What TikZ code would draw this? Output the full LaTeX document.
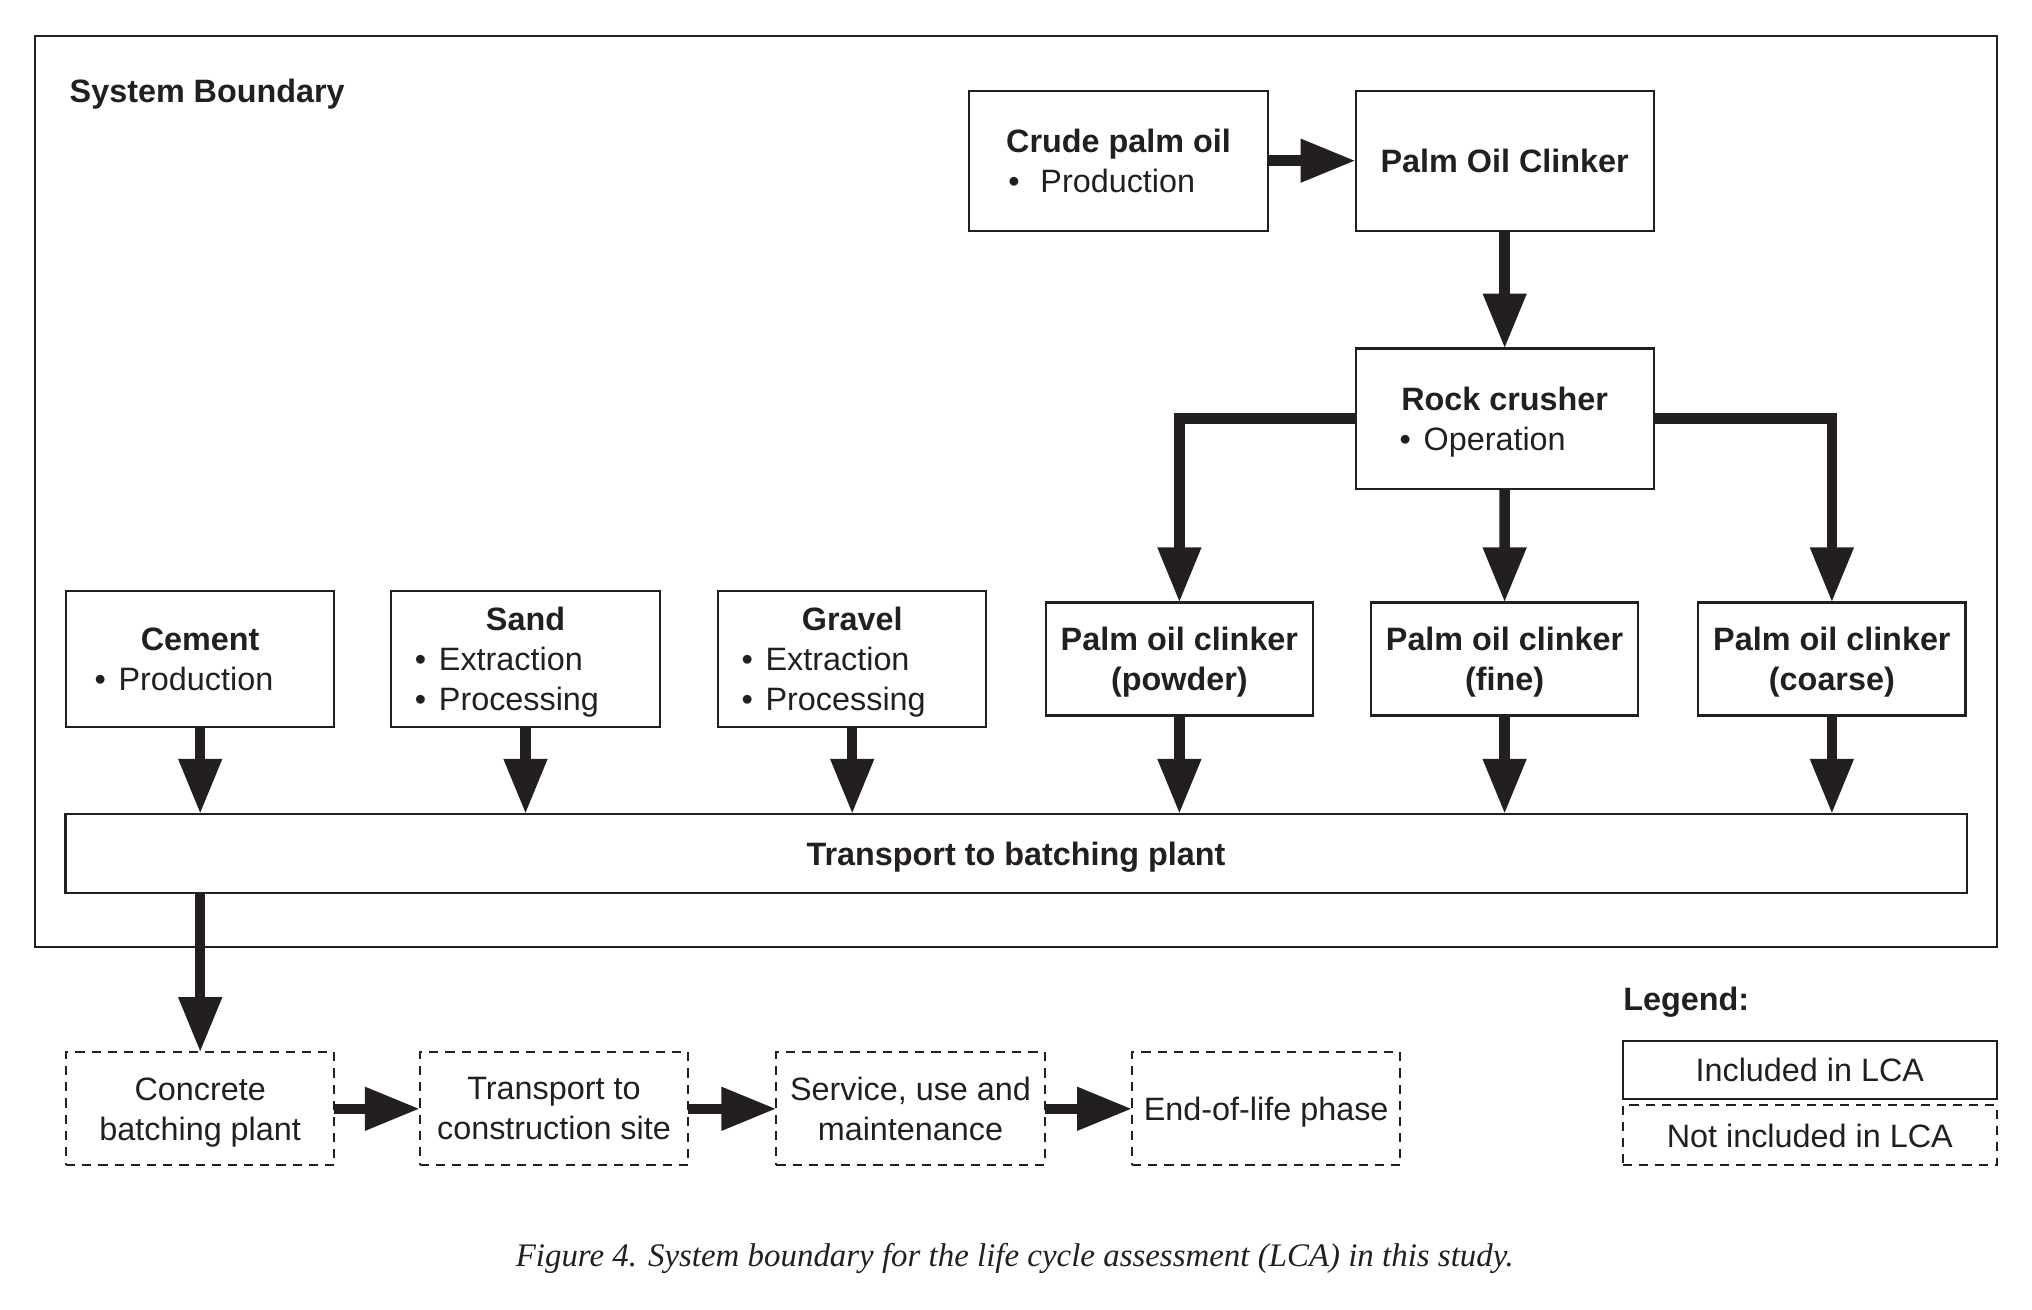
\documentclass[tikz,border=0pt]{standalone}
\usepackage{fontspec}
\setmainfont{Liberation Sans}
\newfontfamily\capfont{Liberation Serif}
\usetikzlibrary{arrows.meta}
\definecolor{ink}{RGB}{35,31,32}
% bullet line, #1 = width of the line box (sets the indent), #2 = gap after bullet
\newcommand{\itm}[3][0.24cm]{\makebox[#2][l]{\makebox[#1][l]{\textbullet}#3}}
\tikzset{
  incl/.style={draw=ink, line width=0.6pt, inner sep=0pt, outer sep=0pt, align=center, text depth=0pt},
  excl/.style={incl, dash pattern=on 2.6pt off 2pt},
  flow/.style={draw=ink, line width=3pt, -{Triangle[length=0.55cm,width=0.41cm]}},
}
\begin{document}
\begin{tikzpicture}[x=0.01cm, y=-0.01cm, font=\fontsize{9.2}{11.4}\selectfont, text=ink]
\useasboundingbox (0,0) rectangle (2032,1310);
% system boundary
\draw[ink, line width=0.6pt] (35,36) rectangle (1997,947);
\node[anchor=west, inner sep=0pt] (sb) at (69,94) {\textbf{System Boundary}};
% palm oil clinker chain
\node[incl, minimum width=2.98cm, minimum height=1.40cm] (crude) at (1118.5,160.7) {\textbf{Crude palm oil}\\\itm[0.32cm]{2.20cm}{Production}};
\node[incl, minimum width=2.98cm, minimum height=1.40cm] (poc) at (1504.7,160.7) {\textbf{Palm Oil Clinker}};
\node[incl, minimum width=2.98cm, minimum height=1.40cm] (rock) at (1504.7,418.6) {\textbf{Rock crusher}\\\itm{2.10cm}{Operation}};
% materials
\node[incl, minimum width=2.68cm, minimum height=1.36cm] (cement) at (200.2,659) {\textbf{Cement}\\\itm{2.11cm}{Production}};
\node[incl, minimum width=2.68cm, minimum height=1.36cm] (sand) at (525.5,659) {\textbf{Sand}\\\itm{2.21cm}{Extraction}\\\itm{2.21cm}{Processing}};
\node[incl, minimum width=2.68cm, minimum height=1.36cm] (gravel) at (852.2,659) {\textbf{Gravel}\\\itm{2.21cm}{Extraction}\\\itm{2.21cm}{Processing}};
\node[incl, minimum width=2.67cm, minimum height=1.13cm] (powder) at (1179.4,659) {\textbf{Palm oil clinker}\\\textbf{(powder)}};
\node[incl, minimum width=2.67cm, minimum height=1.13cm] (fine) at (1504.6,659) {\textbf{Palm oil clinker}\\\textbf{(fine)}};
\node[incl, minimum width=2.67cm, minimum height=1.13cm] (coarse) at (1831.9,659) {\textbf{Palm oil clinker}\\\textbf{(coarse)}};
\node[incl, minimum width=19.00cm, minimum height=0.79cm] (trans) at (1016,853.5) {\textbf{Transport to batching plant}};
% outside the boundary
\node[excl, minimum width=2.68cm, minimum height=1.13cm] (batch) at (200.2,1108.8) {Concrete\\batching plant};
\node[excl, minimum width=2.68cm, minimum height=1.13cm] (site) at (554,1108.8) {Transport to\\construction site};
\node[excl, minimum width=2.68cm, minimum height=1.13cm] (serv) at (910.5,1108.8) {Service, use and\\maintenance};
\node[excl, minimum width=2.68cm, minimum height=1.13cm] (eol) at (1266.2,1108.8) {End-of-life phase};
% legend
\node[anchor=west, inner sep=0pt] (leg) at (1622.6,1002) {\textbf{Legend:}};
\node[incl, minimum width=3.74cm, minimum height=0.58cm] (inc) at (1809.8,1069.9) {Included in LCA};
\node[excl, minimum width=3.74cm, minimum height=0.60cm] (exc) at (1809.8,1135.3) {Not included in LCA};
% arrows
\draw[flow] (crude.east) -- (poc.west);
\draw[flow] (poc.south) -- (rock.north);
\draw[flow] (rock.west) -| (powder.north);
\draw[flow] (rock.south) -- (fine.north);
\draw[flow] (rock.east) -| (coarse.north);
\foreach \n in {cement,sand,gravel,powder,fine,coarse}
  \draw[flow] (\n.south) -- (\n.south |- trans.north);
\draw[flow] (batch.north |- trans.south) -- (batch.north);
\foreach \a/\b in {batch/site,site/serv,serv/eol}
  \draw[flow] (\a.east) -- (\b.west);
% caption
\node (cap) at (1014.8,1258.5) {\capfont\itshape\fontsize{9.36}{11}\selectfont Figure 4. System boundary for the life cycle assessment (LCA) in this study.};
\end{tikzpicture}
\end{document}
